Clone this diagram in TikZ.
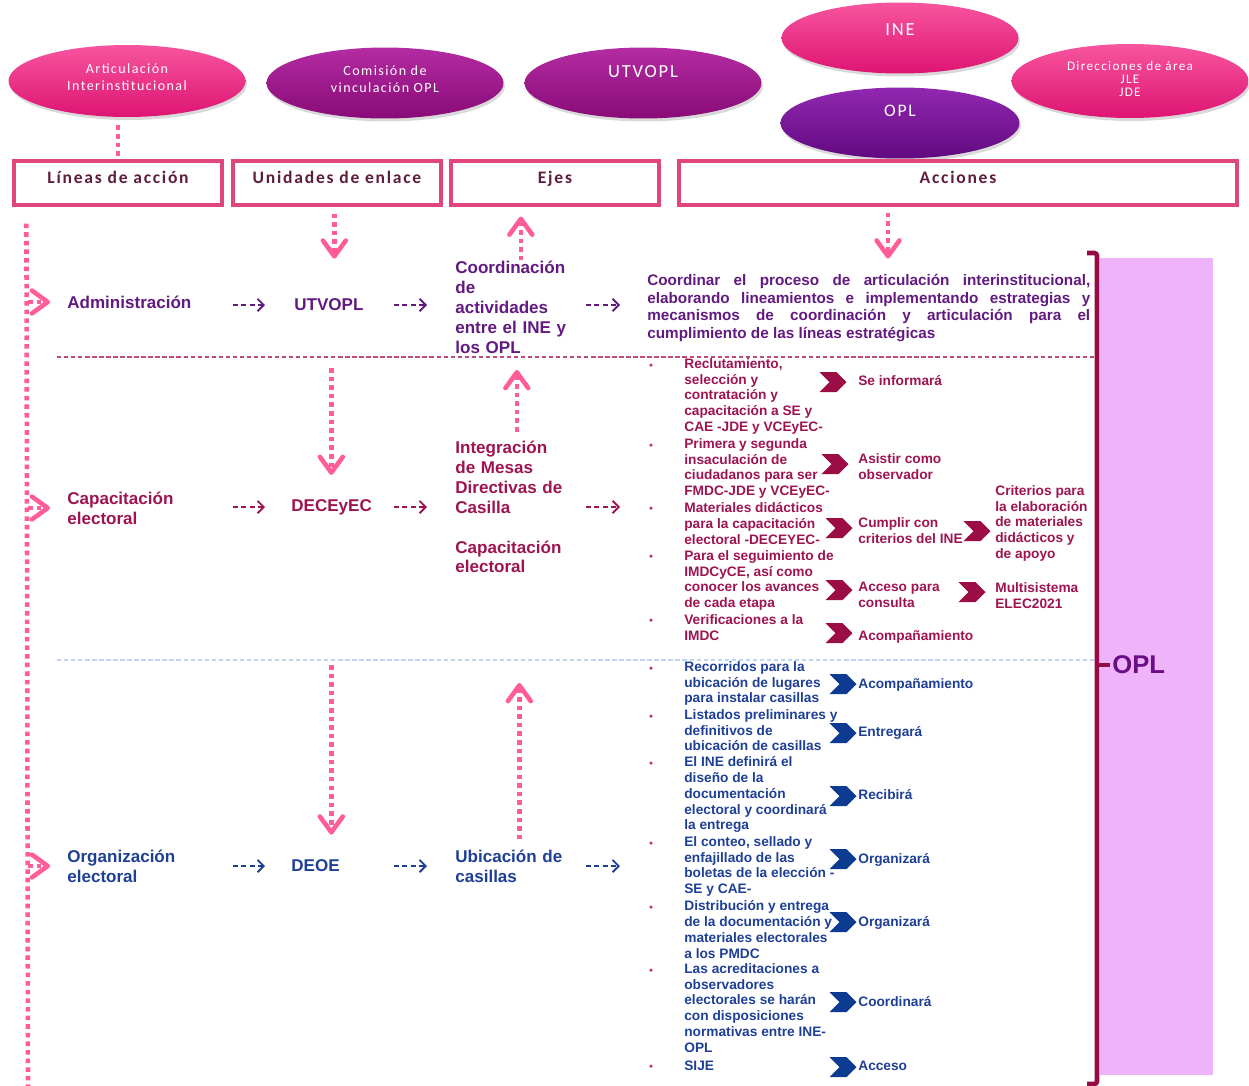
\documentclass[tikz,border=0pt]{standalone}
\usepackage{fontspec}
\setmainfont{Liberation Sans}
\newfontfamily\calibsp[LetterSpace=10]{Carlito}
\usetikzlibrary{arrows.meta,shapes.geometric,shapes.symbols,shadows}

\definecolor{pinkEtop}{HTML}{F7559F}
\definecolor{pinkEbot}{HTML}{DE1472}
\definecolor{purEtop}{HTML}{B42CA2}
\definecolor{purEbot}{HTML}{880A77}
\definecolor{vioEtop}{HTML}{9128B0}
\definecolor{vioEbot}{HTML}{610980}
\definecolor{boxline}{HTML}{E0457D}
\definecolor{boxtxt}{HTML}{5E1C3E}
\definecolor{dotpink}{HTML}{FF5C98}
\definecolor{rowpur}{HTML}{621A80}
\definecolor{rowmar}{HTML}{9E1450}
\definecolor{rowblu}{HTML}{1E3F96}
\definecolor{chevmar}{HTML}{9C0D45}
\definecolor{chevblu}{HTML}{0D3B92}
\definecolor{bulmag}{HTML}{CC2A7C}
\definecolor{sepmar}{HTML}{C24A78}
\definecolor{sepblu}{HTML}{BDD5F0}
\definecolor{brack}{HTML}{970B44}
\definecolor{lav}{HTML}{EEB3FB}
\definecolor{opltxt}{HTML}{6A0E88}

\newcommand\rowfont{\fontsize{9.7}{11.34}\selectfont\bfseries}
\newcommand\actfont{\fontsize{8.7}{10.2}\selectfont\bfseries}
\newcommand\itemfont{\fontsize{7.8}{9.07}\selectfont\bfseries}

\begin{document}
\begin{tikzpicture}[
    x=0.02cm, y=-0.02cm,
    every node/.append style={inner sep=0pt},
    ell/.style={ellipse, minimum width=4.74cm, minimum height=1.42cm,
        drop shadow={shadow xshift=0.03cm, shadow yshift=-0.06cm, opacity=0.3}},
    pinkell/.style={ell, top color=pinkEtop, bottom color=pinkEbot},
    purell/.style={ell, top color=purEtop, bottom color=purEbot},
    vioell/.style={ell, top color=vioEtop, bottom color=vioEbot},
    etxt/.style={text=white, align=center, font=\calibsp\fontsize{8}{9.6}\selectfont},
    hdr/.style={draw=boxline, line width=1.8pt, minimum height=0.88cm, minimum width=4.16cm,
        text=boxtxt, font=\calibsp\bfseries\fontsize{10}{12}\selectfont,
        text height=1.2em, text depth=1.1em},
    pdots/.style={draw=dotpink, line width=2.6pt, dash pattern=on 2.6pt off 2.3pt},
    parr/.style={pdots, -{Straight Barb[length=9pt, width=13pt, line width=2.6pt, round]}},
    darr/.style={line width=1.1pt, dash pattern=on 3pt off 1.8pt,
        -{Straight Barb[length=3.5pt, width=7pt, line width=1.1pt]}},
    rowtxt/.style={anchor=west, align=left, text width=3cm, font=\rowfont},
    unit/.style={anchor=west, align=left, text width=1.6cm, font=\rowfont},
    ejetxt/.style={anchor=west, align=left, text width=2.3cm, font=\rowfont},
    itm/.style={anchor=north west, yshift=0.224cm, align=left, font=\itemfont,
        execute at begin node=\strut},
    bul/.style={circle, fill=bulmag, minimum size=0.07cm},
    chev/.style={shape=signal, signal from=west, signal to=east, fill=#1,
        minimum width=0.54cm, minimum height=0.4cm}
  ]
  \useasboundingbox (0,0) rectangle (1249,1086);

  % OPL band at the right
  \fill[lav] (1100,258) rectangle (1213,1075);

  % ellipses on top
  \node[pinkell, minimum height=1.44cm] (art) at (127,81) {};
  \node[etxt, yshift=0.07cm] (artT) at (art.center) {Articulación\\Interinstitucional};
  \node[purell] (com) at (385,83) {};
  \node[etxt, yshift=0.07cm] (comT) at (com.center) {Comisión de\\vinculación OPL};
  \node[purell] (utvE) at (643,83) {};
  \node[etxt, yshift=0.22cm, font=\calibsp\fontsize{10.5}{12}\selectfont] (utvT) at (utvE.center) {UTVOPL};
  \node[pinkell] (ine) at (900,38) {};
  \node[etxt, yshift=0.16cm, font=\calibsp\fontsize{10.5}{12}\selectfont] (ineT) at (ine.center) {INE};
  \node[vioell, minimum width=4.78cm] (oplE) at (900,123) {};
  \node[etxt, yshift=0.24cm, font=\calibsp\fontsize{10}{12}\selectfont] (oplT) at (oplE.center) {OPL};
  \node[pinkell, minimum height=1.48cm] (dir) at (1130,81) {};
  \node[etxt, yshift=0.04cm, font=\calibsp\fontsize{7.5}{7.4}\selectfont] (dirT) at (dir.center) {Direcciones de área\\JLE\\JDE};

  % column headers
  \node[hdr] (lin) at (118,183) {Líneas de acción};
  \node[hdr] (unid) at (337,183) {Unidades de enlace};
  \node[hdr] (ejes) at (555,183) {Ejes};
  \node[hdr, minimum width=11.16cm] (acc) at (958,183) {Acciones};

  \coordinate (brtop) at (1097,253);
  \coordinate (brbot) at (1097,1084);
  \coordinate (sep2) at (57,357);
  \coordinate (sep3) at (57,660);
  \coordinate (lbot) at (28,1086);
  \coordinate (capend) at (647,507);
  \coordinate (orgend) at (647,866);

  % row 1
  \node[rowtxt, text=rowpur] (adm) at (67,302) {Administración};
  \node[unit, text=rowpur, xshift=0.06cm] (utv) at (291,305) {UTVOPL};
  \node[ejetxt, text=rowpur] (eje1) at (455,307) {Coordinación\\de\\actividades\\entre el INE y\\los OPL};
  \node[anchor=west, text width=8.86cm, align=justify, font=\actfont, text=rowpur] (act1) at (647,308)
    {Coordinar el proceso de articulación interinstitucional,\linebreak
     elaborando lineamientos e implementando estrategias y\linebreak
     mecanismos de coordinación y articulación para el\linebreak
     cumplimiento de las líneas estratégicas};

  % row 2
  \node[rowtxt, text=rowmar] (cap) at (67,508) {Capacitación\\electoral};
  \node[unit, text=rowmar] (dec) at (291,507) {DECEyEC};
  \node[ejetxt, text=rowmar] (eje2) at (455,507) {Integración\\de Mesas\\Directivas de\\Casilla\\[\baselineskip]Capacitación\\electoral};

  % row 3
  \node[rowtxt, text=rowblu] (org) at (67,866) {Organización\\electoral};
  \node[unit, text=rowblu] (deoe) at (291,866) {DEOE};
  \node[ejetxt, text=rowblu] (eje3) at (455,866) {Ubicación de\\casillas};

  % separators and bracket
  \draw[sepmar, line width=0.8pt, dash pattern=on 2.5pt off 1.5pt] (sep2) -- (sep2 -| brtop);
  \draw[sepblu, line width=0.8pt, dash pattern=on 2.5pt off 1.5pt] (sep3) -- (sep3 -| brtop);
  \node[anchor=west, font=\fontsize{14.6}{16}\selectfont\bfseries, text=opltxt] (oplL) at (1112,665) {OPL};
  \draw[brack, line width=2.6pt, rounded corners=1.5pt]
    ([xshift=-0.2cm]brtop) -- (brtop) -- (brbot) -- ([xshift=-0.2cm]brbot);
  \draw[brack, line width=2.6pt, shorten >=0.04cm] (brtop |- oplL.west) -- (oplL.west);

  % dotted pink links
  \draw[pdots, shorten <=0.16cm, shorten >=0.06cm] (lin.north |- art.south) -- (lin.north);
  \draw[pdots] ([xshift=0.28cm, yshift=-0.34cm]lin.south west) -- (lbot);
  \draw[parr, shorten >=0.34cm] (lbot |- adm.west) -- (adm.west);
  \draw[parr, shorten >=0.34cm] (lbot |- cap.west) -- (cap.west);
  \draw[parr, shorten >=0.34cm] (lbot |- org.west) -- (org.west);

  \draw[parr, shorten <=0.14cm, shorten >=0.8cm] (unid.south -| utv.north) -- (utv.north);
  \draw[parr, shorten >=0.2cm] ([xshift=0.16cm]eje1.north) -- ([xshift=0.16cm]eje1.north |- ejes.south);
  \draw[parr, shorten <=0.12cm, shorten >=0.3cm] ([xshift=-1.4cm]acc.south) -- ([xshift=-1.4cm]acc.south |- act1.north);

  \draw[parr, shorten <=0.22cm, shorten >=0.48cm] (sep2 -| dec.north) -- (dec.north);
  \draw[parr, shorten <=0.18cm, shorten >=0.26cm] ([xshift=0.08cm]eje2.north) -- ([xshift=0.08cm]eje2.north |- sep2);
  \draw[parr, shorten <=0.1cm, shorten >=0.5cm] (sep3 -| deoe.north) -- (deoe.north);
  \draw[parr, shorten <=0.2cm, shorten >=0.46cm] ([xshift=0.13cm]eje3.north) -- ([xshift=0.13cm]eje3.north |- sep3);

  % dashed row arrows
  \draw[darr, rowpur, shorten <=0.3cm, shorten >=0.58cm] (adm.east |- utv.west) -- (utv.west);
  \draw[darr, rowpur, shorten <=0.38cm, shorten >=0.56cm] (utv.east) -- (utv.east -| eje1.west);
  \draw[darr, rowpur, shorten <=0.3cm, shorten >=0.54cm] (eje1.east |- utv.east) -- (utv.east -| act1.west);
  \draw[darr, rowmar, shorten <=0.3cm, shorten >=0.52cm] (cap.east |- dec.west) -- (dec.west);
  \draw[darr, rowmar, shorten <=0.44cm, shorten >=0.56cm] (dec.east) -- (dec.east -| eje2.west);
  \draw[darr, rowmar, shorten <=0.3cm, shorten >=0.54cm] (eje2.east |- capend) -- (capend);
  \draw[darr, rowblu, shorten <=0.3cm, shorten >=0.52cm] (org.east |- deoe.west) -- (deoe.west);
  \draw[darr, rowblu, shorten <=0.44cm, shorten >=0.56cm] (deoe.east) -- (deoe.east -| eje3.west);
  \draw[darr, rowblu, shorten <=0.3cm, shorten >=0.54cm] (eje3.east |- orgend) -- (orgend);

  % capacitacion actions
  \foreach \n/\yy in {1/365,2/445,3/508,4/556,5/620}
    \node[bul] (cb\n) at (651,\yy) {};
  \node[itm, text=rowmar] (c1) at (684,369) {Reclutamiento,\\selección y\\contratación y\\capacitación a SE y\\CAE -JDE y VCEyEC-};
  \node[itm, text=rowmar] (c2) at (684,449) {Primera y segunda\\insaculación de\\ciudadanos para ser\\FMDC-JDE y VCEyEC-};
  \node[itm, text=rowmar] (c3) at (684,513) {Materiales didácticos\\para la capacitación\\electoral -DECEYEC-};
  \node[itm, text=rowmar] (c4) at (684,561) {Para el seguimiento de\\IMDCyCE, así como\\conocer los avances\\de cada etapa};
  \node[itm, text=rowmar] (c5) at (684,625) {Verificaciones a la\\IMDC};

  \node[chev=chevmar] (cc1) at (833,382) {};
  \node[chev=chevmar] (cc2) at (835,464) {};
  \node[chev=chevmar] (cc3) at (839,528) {};
  \node[chev=chevmar] (cc3b) at (977,531) {};
  \node[chev=chevmar] (cc4) at (839,590) {};
  \node[chev=chevmar] (cc4b) at (972,592) {};
  \node[chev=chevmar] (cc5) at (839,633) {};

  \node[itm, text=rowmar] (cr1) at (858,385) {Se informará};
  \node[itm, text=rowmar] (cr2) at (858,464) {Asistir como\\observador};
  \node[itm, text=rowmar] (cr3) at (858,528) {Cumplir con\\criterios del INE};
  \node[itm, text=rowmar] (cr3b) at (995,496) {Criterios para\\la elaboración\\de materiales\\didácticos y\\de apoyo};
  \node[itm, text=rowmar] (cr4) at (858,593) {Acceso para\\consulta};
  \node[itm, text=rowmar] (cr4b) at (995,593) {Multisistema\\ELEC2021};
  \node[itm, text=rowmar] (cr5) at (858,640) {Acompañamiento};

  % organizacion actions
  \foreach \n/\yy in {1/668,2/716,3/763,4/843,5/907,6/970,7/1066}
    \node[bul] (ob\n) at (651,\yy) {};
  \node[itm, text=rowblu] (o1) at (684,672) {Recorridos para la\\ubicación de lugares\\para instalar casillas};
  \node[itm, text=rowblu] (o2) at (684,720) {Listados preliminares y\\definitivos de\\ubicación de casillas};
  \node[itm, text=rowblu] (o3) at (684,767) {El INE definirá el\\diseño de la\\documentación\\electoral y coordinará\\la entrega};
  \node[itm, text=rowblu] (o4) at (684,847) {El conteo, sellado y\\enfajillado de las\\boletas de la elección -\\SE y CAE-};
  \node[itm, text=rowblu] (o5) at (684,911) {Distribución y entrega\\de la documentación y\\materiales electorales\\a los PMDC};
  \node[itm, text=rowblu] (o6) at (684,974) {Las acreditaciones a\\observadores\\electorales se harán\\con disposiciones\\normativas entre INE-\\OPL};
  \node[itm, text=rowblu] (o7) at (684,1070) {SIJE};

  \foreach \n/\yy in {1/684,2/733,3/796,4/859,5/922,6/1002,7/1067}
    \node[chev=chevblu] (oc\n) at (843,\yy) {};

  \node[itm, text=rowblu] (or1) at (858,688) {Acompañamiento};
  \node[itm, text=rowblu] (or2) at (858,736) {Entregará};
  \node[itm, text=rowblu] (or3) at (858,799) {Recibirá};
  \node[itm, text=rowblu] (or4) at (858,863) {Organizará};
  \node[itm, text=rowblu] (or5) at (858,926) {Organizará};
  \node[itm, text=rowblu] (or6) at (858,1006) {Coordinará};
  \node[itm, text=rowblu] (or7) at (858,1070) {Acceso};
\end{tikzpicture}
\end{document}
